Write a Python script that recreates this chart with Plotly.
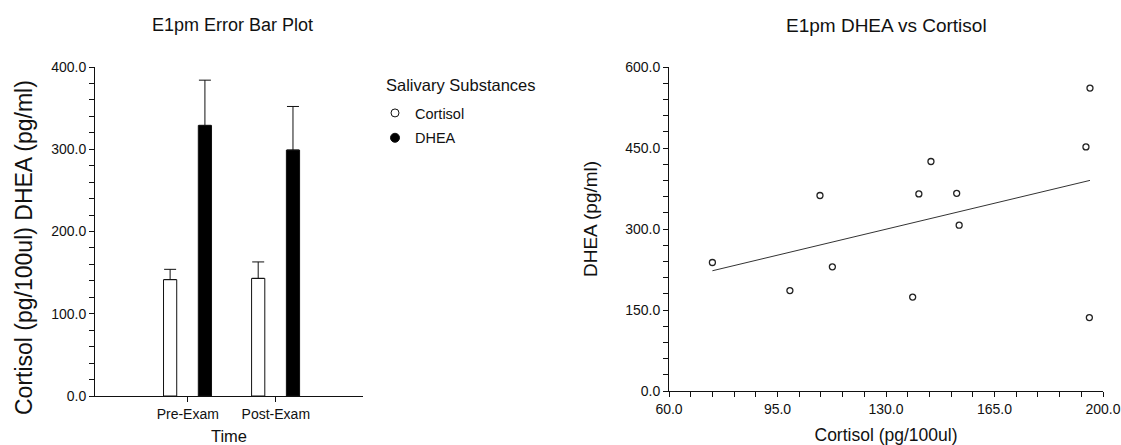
import numpy as np
import plotly.graph_objects as go

# ---------------- data ----------------
categories = ["Pre-Exam", "Post-Exam"]
cortisol_mean = [141.5, 143.0]
cortisol_err = [12.5, 20.0]
dhea_mean = [329.0, 299.0]
dhea_err = [55.0, 53.0]

scatter_cortisol = [74.0, 99.0, 108.7, 112.7, 138.6, 140.6, 144.5, 152.8, 153.6, 194.5, 195.8, 195.6]
scatter_dhea = [238.0, 186.0, 362.0, 230.0, 174.0, 365.0, 425.0, 366.0, 307.0, 452.0, 561.0, 136.0]

W, H = 1121, 445
FONT = "Liberation Sans, Arial, sans-serif"
INK = "#111111"


def px_x(p):
    return p / W


def px_y(p):
    return (H - p) / H


fig = go.Figure()

# ---------- left: error bar plot ----------
fig.add_trace(go.Bar(
    x=categories, y=cortisol_mean, name="Cortisol", showlegend=False,
    offset=-0.275, width=0.15,
    marker=dict(color="white", line=dict(color=INK, width=1)),
    error_y=dict(type="data", array=cortisol_err, arrayminus=[0] * len(cortisol_err),
                 symmetric=False, color=INK, thickness=1, width=6),
    xaxis="x", yaxis="y",
))
fig.add_trace(go.Bar(
    x=categories, y=dhea_mean, name="DHEA", showlegend=False,
    offset=0.12, width=0.15,
    marker=dict(color="black", line=dict(color=INK, width=1)),
    error_y=dict(type="data", array=dhea_err, arrayminus=[0] * len(dhea_err),
                 symmetric=False, color=INK, thickness=1, width=6),
    xaxis="x", yaxis="y",
))
# legend entries (circle symbols as in the original)
fig.add_trace(go.Scatter(
    x=[None], y=[None], mode="markers", name="Cortisol", legendgroup="a",
    marker=dict(symbol="circle", size=8, color="white", line=dict(color=INK, width=1)),
    xaxis="x", yaxis="y",
))
fig.add_trace(go.Scatter(
    x=[None], y=[None], mode="markers", name="DHEA", legendgroup="b",
    marker=dict(symbol="circle", size=9, color="black", line=dict(color=INK, width=1)),
    xaxis="x", yaxis="y",
))

# ---------- right: scatter + regression ----------
fig.add_trace(go.Scatter(
    x=scatter_cortisol, y=scatter_dhea, mode="markers", showlegend=False,
    marker=dict(symbol="circle-open", size=6, color="#222222", line=dict(width=1.3)),
    xaxis="x2", yaxis="y2",
))
slope, intercept = np.polyfit(scatter_cortisol, scatter_dhea, 1)
xl = np.array([min(scatter_cortisol), max(scatter_cortisol)])
fig.add_trace(go.Scatter(
    x=xl, y=slope * xl + intercept, mode="lines", showlegend=False,
    line=dict(color="#333333", width=1),
    xaxis="x2", yaxis="y2",
))

axis_common = dict(
    showline=True, linecolor=INK, linewidth=1, showgrid=False, zeroline=False,
    ticks="outside", ticklen=5, tickcolor=INK, tickwidth=1, automargin=False,
    tickfont=dict(family=FONT, size=14, color=INK),
)
minor_common = dict(tickmode="linear", ticks="outside", ticklen=5, tickcolor=INK,
                    tickwidth=1, showgrid=False)

fig.update_layout(
    width=W, height=H,
    margin=dict(l=0, r=0, t=0, b=0),
    paper_bgcolor="white", plot_bgcolor="white",
    font=dict(family=FONT, color=INK),
    barmode="group",
    xaxis=dict(
        **axis_common,
        domain=[px_x(95), px_x(363)],
        type="category", range=[-1.053, 1.99],
        title=dict(text="Time", font=dict(size=16.5, family=FONT, color=INK), standoff=9),
        anchor="y",
    ),
    yaxis=dict(
        **axis_common,
        domain=[px_y(396), px_y(67)],
        range=[0, 400], dtick=100, tick0=0, tickformat=".1f",
        minor=dict(tick0=0, dtick=20, **minor_common),
        anchor="x",
    ),
    xaxis2=dict(
        **axis_common,
        domain=[px_x(669), px_x(1103)],
        range=[60, 200], dtick=35, tick0=60, tickformat=".1f",
        minor=dict(tick0=60, dtick=7, **minor_common),
        title=dict(text="Cortisol (pg/100ul)", font=dict(size=17.5, family=FONT, color=INK), standoff=12),
        anchor="y2",
    ),
    yaxis2=dict(
        **axis_common,
        domain=[px_y(391), px_y(67)],
        range=[0, 600], dtick=150, tick0=0, tickformat=".1f",
        minor=dict(tick0=0, dtick=30, **minor_common),
        anchor="x2",
    ),
    legend=dict(
        x=px_x(375), y=px_y(97), xanchor="left", yanchor="top",
        bgcolor="rgba(0,0,0,0)",
        font=dict(family=FONT, size=14.5, color=INK),
        tracegroupgap=3,
        itemsizing="trace",
    ),
    annotations=[
        dict(text="E1pm Error Bar Plot", x=px_x(232), y=px_y(25), xref="paper", yref="paper",
             xanchor="center", yanchor="middle", showarrow=False,
             font=dict(family=FONT, size=18, color=INK)),
        dict(text="E1pm DHEA vs Cortisol", x=px_x(886), y=px_y(25), xref="paper", yref="paper",
             xanchor="center", yanchor="middle", showarrow=False,
             font=dict(family=FONT, size=19, color=INK)),
        # legend title
        dict(text="Salivary Substances", x=px_x(384), y=px_y(85), xref="paper", yref="paper",
             xanchor="left", yanchor="middle", showarrow=False,
             font=dict(family=FONT, size=16.5, color=INK)),
        # y-axis titles
        dict(text="Cortisol (pg/100ul) DHEA (pg/ml)", x=px_x(24), y=px_y(248), xref="paper", yref="paper",
             xanchor="center", yanchor="middle", textangle=-90, showarrow=False,
             font=dict(family=FONT, size=23, color=INK)),
        dict(text="DHEA (pg/ml)", x=px_x(590), y=px_y(219), xref="paper", yref="paper",
             xanchor="center", yanchor="middle", textangle=-90, showarrow=False,
             font=dict(family=FONT, size=19, color=INK)),
    ],
)

fig.write_html("out.html")
